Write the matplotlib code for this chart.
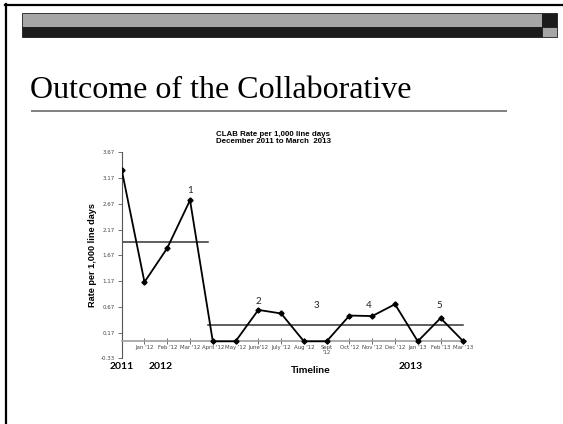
# imports
import matplotlib
matplotlib.use('Agg')
import matplotlib.pyplot as plt
from matplotlib.patches import Rectangle
from matplotlib.lines import Line2D
import numpy as np


# data
months = ['', "Jan '12", "Feb '12", "Mar '12", "April '12", "May '12", "June'12",
          "July '12", "Aug '12", "Sept\n'12", "Oct '12", "Nov '12", "Dec '12",
          "Jan '13", "Feb '13", "Mar '13"]
clab_rate = [3.33, 1.15, 1.81, 2.74, 0.0, 0.0, 0.61, 0.54, 0.0, 0.0,
             0.50, 0.49, 0.72, 0.0, 0.45, 0.0]
mean_pre = 1.93
mean_post = 0.31
split_at = 3.81          # where the baseline mean ends and the post mean starts
ytick_vals = [-0.33, 0.17, 0.67, 1.17, 1.67, 2.17, 2.67, 3.17, 3.67]
cycle_labels = ['1', '2', '3', '4', '5']
cycle_x = [3.0, 6.0, 8.54, 10.86, 13.95]
cycle_y = [2.92, 0.78, 0.70, 0.70, 0.70]
year_labels = ['2011', '2012', '2013']
year_x = [0.0, 1.7, 12.7]

W, H = 563, 424


# supp funcs
def _fx(px):
    return px / W


def _fy(py):
    return 1 - py / H


def _slide(fig):
    # outer border (top and left only visible)
    fig.add_artist(Line2D([_fx(5), 1], [_fy(4.5), _fy(4.5)], color='black', lw=1.6))
    fig.add_artist(Line2D([_fx(5.5), _fx(5.5)], [_fy(4), 0], color='black', lw=1.6))

    # header bars
    bars = [(22, 13, 520, 14, '#a6a6a6'), (22, 27, 520, 10, '#1c1c1c'),
            (542, 13, 15, 14, '#1c1c1c'), (542, 27, 15, 10, '#a6a6a6')]
    for x, y, w, h, c in bars:
        fig.add_artist(Rectangle((_fx(x), _fy(y + h)), _fx(w), h / H,
                                 facecolor=c, edgecolor='#1c1c1c', lw=0.6))

    fig.text(_fx(30), _fy(98.5), 'Outcome of the Collaborative',
             family='Liberation Serif', fontsize=23, va='baseline', ha='left')
    fig.add_artist(Line2D([_fx(32), _fx(506)], [_fy(111), _fy(111)],
                          color='#7f7f7f', lw=1.4))


# main func
def main():
    fig = plt.figure(figsize=(W / 100, H / 100), dpi=100)
    _slide(fig)

    ax = fig.add_axes([121.7 / W, 1 - 358.3 / H, (465.6 - 121.7) / W, 206 / H])
    x_a = np.arange(len(clab_rate))
    ax.plot(x_a, clab_rate, color='black', lw=1.3, marker='D', ms=2.6, zorder=3)
    ax.plot([0, split_at], [mean_pre, mean_pre], color='#333333', lw=1.1)
    ax.plot([split_at, len(clab_rate) - 1], [mean_post, mean_post],
            color='#333333', lw=1.1)

    ax.set_xlim(0, len(clab_rate) - 0.9)
    ax.set_ylim(ytick_vals[0], ytick_vals[-1])
    for s in ['top', 'right']:
        ax.spines[s].set_visible(False)
    ax.spines['bottom'].set_position(('data', 0))
    ax.spines['bottom'].set_color('#a0a0a0')
    ax.spines['bottom'].set_linewidth(1.2)
    ax.spines['left'].set_color('#555555')
    ax.spines['left'].set_linewidth(0.8)

    ax.set_yticks(ytick_vals)
    ax.set_yticklabels([f'{v:.2f}' for v in ytick_vals])
    ax.tick_params(axis='y', length=3, width=0.6, color='#555555',
                   labelsize=4, labelcolor='#444444', pad=2)
    ax.set_xticks(x_a[1:])
    ax.set_xticklabels(months[1:], linespacing=0.9)
    ax.tick_params(axis='x', direction='inout', length=4, width=0.6,
                   color='#555555', labelsize=3.9, labelcolor='#444444', pad=1)
    for lab in ax.get_xticklabels():
        lab.set_verticalalignment('top')

    ax.set_ylabel('Rate per 1,000 line days', fontsize=6.6, fontweight='bold',
                  family='Liberation Sans', labelpad=2.5)

    for t, xv, yv in zip(cycle_labels, cycle_x, cycle_y):
        ax.text(xv, yv, t, fontsize=7, color='#222222', ha='center',
                va='center', family='Lato')

    for t, xv in zip(year_labels, year_x):
        ax.text(xv, -0.49, t, fontsize=7.5, fontweight='bold', ha='center',
                va='center', family='Lato')
    ax.text(8.3, -0.56, 'Timeline', fontsize=7.5, fontweight='bold',
            ha='center', va='center', family='Lato')

    fig.text(_fx(273), _fy(138), 'CLAB Rate per 1,000 line days\nDecember 2011 to March  2013',
             fontsize=5.7, fontweight='bold', ha='center', va='center',
             family='Liberation Sans', linespacing=1.05)

    fig.savefig('out.png', dpi=100)


# running
if __name__ == '__main__':
    main()
